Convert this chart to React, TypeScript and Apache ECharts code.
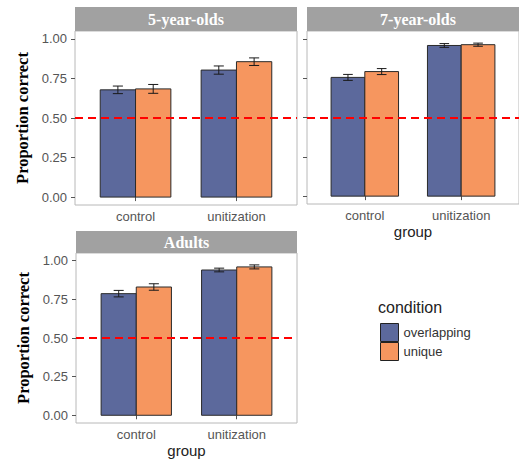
import React, { useEffect, useRef } from "react";
import * as echarts from "echarts";

const groups = ["control", "unitization"];
const conditions = ["overlapping", "unique"];
const panels = ["5-year-olds", "7-year-olds", "Adults"];
const tickValues = [0, 0.25, 0.5, 0.75, 1];

// mean proportion correct per panel, [control, unitization]
const overlappingMeans = [
  [0.678, 0.803],
  [0.755, 0.958],
  [0.787, 0.94],
];
const uniqueMeans = [
  [0.684, 0.856],
  [0.792, 0.963],
  [0.83, 0.96],
];
// error bar half-widths (SE)
const overlappingErr = [
  [0.024, 0.026],
  [0.019, 0.012],
  [0.021, 0.012],
];
const uniqueErr = [
  [0.028, 0.024],
  [0.019, 0.01],
  [0.021, 0.013],
];
const chanceLevel = 0.5;

const colors = { overlapping: "#5c699c", unique: "#f6965f" };

const gridBoxes = [
  { left: 75, top: 31, width: 222, height: 174 },
  { left: 307, top: 31, width: 222, height: 173 },
  { left: 76, top: 253, width: 221, height: 174 },
];
const strips = [
  { x: 75, y: 7, w: 222, h: 24 },
  { x: 307, y: 7, w: 222, h: 24 },
  { x: 76, y: 231, w: 221, h: 22 },
];

const sans = "Liberation Sans, Arial, sans-serif";
const serif = "Liberation Serif, Times New Roman, serif";

function makeRender(offset: number, color: string) {
  return (params: any, api: any) => {
    const xc = api.value(0) + offset;
    const y = api.value(1);
    const e = api.value(2);
    const half = 0.175;
    const cap = 0.05;
    const pBase = api.coord([xc - half, 0]);
    const pTop = api.coord([xc + half, y]);
    const eTop = api.coord([xc, y + e]);
    const eBot = api.coord([xc, y - e]);
    const cL = api.coord([xc - cap, y])[0];
    const cR = api.coord([xc + cap, y])[0];
    const lineStyle = { stroke: "#1a1a1a", lineWidth: 1 };
    return {
      type: "group",
      children: [
        {
          type: "rect",
          shape: {
            x: pBase[0],
            y: pTop[1],
            width: pTop[0] - pBase[0],
            height: pBase[1] - pTop[1],
          },
          style: { fill: color, stroke: "#2a2a2a", lineWidth: 1 },
        },
        { type: "line", shape: { x1: eTop[0], y1: eTop[1], x2: eBot[0], y2: eBot[1] }, style: lineStyle },
        { type: "line", shape: { x1: cL, y1: eTop[1], x2: cR, y2: eTop[1] }, style: lineStyle },
        { type: "line", shape: { x1: cL, y1: eBot[1], x2: cR, y2: eBot[1] }, style: lineStyle },
      ],
    };
  };
}

export default function App() {
  const ref = useRef<HTMLDivElement>(null);
  useEffect(() => {
    document.body.style.margin = "0";
    const chart = echarts.init(ref.current!, null, { renderer: "svg" });

    const grids = gridBoxes.map((g) => ({
      ...g,
      show: true,
      borderColor: "#b8b8b8",
      borderWidth: 1,
      backgroundColor: "#ffffff",
    }));

    const xAxes = panels.map((_, i) => ({
      type: "value",
      gridIndex: i,
      min: 0.4,
      max: 2.6,
      axisLine: { show: false },
      splitLine: { show: false },
      axisTick: { show: true, length: 4, customValues: [1, 2], lineStyle: { color: "#555" } },
      axisLabel: {
        customValues: [1, 2],
        formatter: (v: number) => groups[Math.round(v) - 1] ?? "",
        margin: 5,
        fontSize: 13,
        color: "#555",
        fontFamily: sans,
      },
      name: i === 0 ? "" : "group",
      nameLocation: "middle",
      nameGap: 20,
      nameTextStyle: { fontSize: 15, color: "#222", fontFamily: sans },
    }));

    const yAxes = panels.map((_, i) => ({
      type: "value",
      gridIndex: i,
      min: -0.05,
      max: 1.05,
      axisLine: { show: false },
      splitLine: { show: false },
      axisTick: { show: true, length: 4, customValues: tickValues, lineStyle: { color: "#555" } },
      axisLabel: {
        show: i !== 1,
        customValues: tickValues,
        formatter: (v: number) => v.toFixed(2),
        margin: 8,
        fontSize: 13,
        color: "#555",
        fontFamily: sans,
      },
      name: i === 1 ? "" : "Proportion correct",
      nameLocation: "middle",
      nameRotate: 90,
      nameGap: 44,
      nameTextStyle: { fontSize: 16.5, fontWeight: "bold", color: "#000", fontFamily: serif },
    }));

    const series: any[] = [];
    panels.forEach((_, i) => {
      series.push({
        type: "custom",
        name: "overlapping",
        xAxisIndex: i,
        yAxisIndex: i,
        itemStyle: { color: colors.overlapping },
        renderItem: makeRender(-0.175, colors.overlapping),
        data: groups.map((_, j) => [j + 1, overlappingMeans[i][j], overlappingErr[i][j]]),
      });
      series.push({
        type: "custom",
        name: "unique",
        xAxisIndex: i,
        yAxisIndex: i,
        itemStyle: { color: colors.unique },
        renderItem: makeRender(0.175, colors.unique),
        data: groups.map((_, j) => [j + 1, uniqueMeans[i][j], uniqueErr[i][j]]),
      });
      series.push({
        type: "line",
        name: "chance" + i,
        xAxisIndex: i,
        yAxisIndex: i,
        data: [],
        z: 10,
        markLine: {
          silent: true,
          symbol: "none",
          label: { show: false },
          lineStyle: { color: "#ff0000", type: [8, 5], width: 2 },
          data: [{ yAxis: chanceLevel }],
        },
      });
    });

    const graphic: any[] = [];
    strips.forEach((s, i) => {
      graphic.push({
        type: "rect",
        shape: { x: s.x, y: s.y, width: s.w, height: s.h },
        style: { fill: "#a1a1a1" },
        z: 5,
      });
      graphic.push({
        type: "text",
        x: s.x + s.w / 2,
        y: s.y + s.h / 2,
        style: {
          text: panels[i],
          fill: "#ffffff",
          font: `bold 16px ${serif}`,
          align: "center",
          verticalAlign: "middle",
        },
        z: 6,
      });
    });

    chart.setOption({
      animation: false,
      title: {
        text: "condition",
        left: 378,
        top: 299,
        padding: 0,
        textStyle: { fontSize: 16, fontWeight: "normal", color: "#222", fontFamily: sans },
      },
      legend: {
        data: conditions,
        orient: "vertical",
        left: 380,
        top: 323,
        padding: 0,
        itemWidth: 18,
        itemHeight: 18,
        itemGap: 0,
        icon: "rect",
        selectedMode: false,
        itemStyle: { borderColor: "#222", borderWidth: 1 },
        textStyle: { fontSize: 13, color: "#333", fontFamily: sans },
      },
      grid: grids,
      xAxis: xAxes,
      yAxis: yAxes,
      series,
      graphic,
    });
    return () => chart.dispose();
  }, []);
  return <div ref={ref} style={{ width: 519, height: 459 }} />;
}
